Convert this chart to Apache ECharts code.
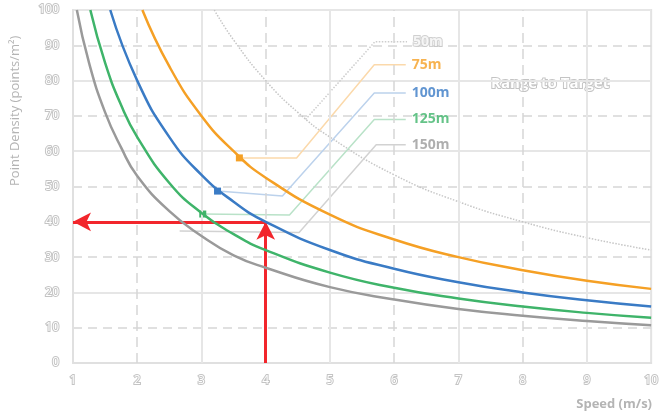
<!DOCTYPE html>
<html>
<head>
<meta charset="utf-8">
<script src="https://cdn.jsdelivr.net/npm/echarts@6/dist/echarts.min.js"></script>
<style>
  html, body { margin: 0; padding: 0; background: #fff; }
  #chart { width: 662px; height: 415px; }
</style>
</head>
<body>
<div id="chart"></div>
<script>
// curves: speed (m/s) -> point density (points/m²)
let speed50 = [3.2, 3.5, 4, 4.5, 5, 6, 7, 8, 9, 10];
let dens50 = [100, 91.5, 80, 71, 64, 53.3, 45.7, 40, 35.5, 32];
let speed75 = [2.08, 2.5, 3, 3.5, 4, 5, 6, 7, 8, 9, 10];
let dens75 = [100, 84, 70, 60, 52.5, 42, 35, 30, 26.3, 23.3, 21];
let speed100 = [1.58, 2, 2.5, 3, 3.5, 4, 5, 6, 7, 8, 9, 10];
let dens100 = [100, 80, 64, 53.3, 45.7, 40, 32, 26.7, 22.9, 20, 17.8, 16];
let speed125 = [1.27, 1.5, 1.75, 2, 2.5, 3, 3.5, 4, 5, 6, 7, 8, 9, 10];
let dens125 = [100, 85, 73, 64, 51, 42.5, 36.5, 32, 25.6, 21.3, 18.3, 16, 14.2, 12.8];
let speed150 = [1.06, 1.25, 1.5, 1.75, 2, 2.5, 3, 3.5, 4, 5, 6, 7, 8, 9, 10];
let dens150 = [100, 85, 71, 61, 53, 43, 36, 30.5, 27, 21.5, 18, 15.3, 13.4, 11.9, 10.7];

// leader lines from a point on each curve to its label (data coords)
let lead50 = [[4.62, 69], [5.7, 91], [6.2, 91]];
let lead75 = [[3.59, 58.1], [4.48, 58.1], [5.69, 84.5], [6.18, 84.5]];
let lead100 = [[3.25, 48.7], [4.26, 47.3], [5.69, 76.5], [6.18, 76.5]];
let lead125 = [[3.02, 42.2], [4.37, 41.9], [5.69, 69], [6.18, 69]];
let lead150 = [[2.66, 37.4], [4.52, 37], [5.72, 61.8], [6.18, 61.8]];

let labels = ['50m', '75m', '100m', '125m', '150m'];
let xTicks = [1, 10, 1];   // min, max, step
let yTicks = [0, 100, 10];
let dashedX = [2, 4, 6, 8];
let solidX = [3, 5, 7, 9];

let chart = echarts.init(document.getElementById('chart'));

function zip(xs, ys) {
  return xs.map(function (x, i) { return [x, ys[i]]; });
}

let outlined = {
  color: '#fff',
  textBorderColor: '#c4c4c4',
  textBorderWidth: 2,
  fontFamily: 'Open Sans',
  fontWeight: 'bold'
};

function curve(name, xs, ys, color, extra) {
  return Object.assign({
    name: name,
    type: 'line',
    data: zip(xs, ys),
    smooth: 0.5,
    showSymbol: false,
    silent: true,
    z: 5,
    lineStyle: { color: color, width: 2.5 }
  }, extra || {});
}

// polyline + optional square dot on the curve + text at the far end
function leader(pts, lineColor, dotColor, text, textStyle) {
  let data = pts.map(function (p, i) {
    let item = { value: p, symbol: 'none' };
    if (i === 0 && dotColor) {
      item.symbol = 'rect';
      item.itemStyle = { color: dotColor };
    }
    return item;
  });
  let end = pts[pts.length - 1];
  return [
    {
      type: 'line',
      data: data,
      symbolSize: 7,
      silent: true,
      z: 3,
      lineStyle: { color: lineColor, width: 1.5, type: dotColor || text !== labels[0] ? 'solid' : 'dotted' }
    },
    {
      type: 'scatter',
      data: [end],
      symbol: 'circle',
      symbolSize: 0.1,
      itemStyle: { color: 'rgba(0,0,0,0)' },
      silent: true,
      z: 6,
      label: Object.assign({
        show: true,
        position: 'right',
        distance: 6,
        formatter: text,
        fontSize: 14,
        fontFamily: 'Open Sans',
        fontWeight: 'bold'
      }, textStyle)
    }
  ];
}

let option = {
  animation: false,
  grid: {
    left: 73, right: 8, top: 10, bottom: 52,
    show: true, borderColor: '#e3e3e3', borderWidth: 2
  },
  xAxis: {
    type: 'value',
    min: xTicks[0], max: xTicks[1], interval: xTicks[2],
    axisLine: { show: true, lineStyle: { color: '#e0e0e0', width: 2 } },
    axisTick: { show: false },
    axisLabel: Object.assign({}, outlined, { fontSize: 12, margin: 12, fontWeight: 'normal' }),
    splitLine: { show: false }
  },
  yAxis: [
    {
      type: 'value',
      min: yTicks[0], max: yTicks[1], interval: yTicks[2],
      axisLine: { show: true, lineStyle: { color: '#e0e0e0', width: 2 } },
      axisTick: { show: false },
      axisLabel: Object.assign({}, outlined, { fontSize: 12, margin: 14, fontWeight: 'normal' }),
      splitLine: { show: false }
    },
    {
      type: 'value',
      min: yTicks[0], max: yTicks[1], interval: yTicks[2] * 2,
      position: 'left',
      axisLine: { show: false },
      axisTick: { show: false },
      axisLabel: { show: false },
      splitLine: { show: true, lineStyle: { color: '#e6e6e6', width: 2 } },
      minorTick: { show: false, splitNumber: 2 },
      minorSplitLine: { show: true, lineStyle: { color: '#d6d6d6', width: 1.5, type: [9, 6] } }
    }
  ],
  graphic: [
    {
      type: 'text', x: 9, y: 186, rotation: Math.PI / 2,
      style: { text: 'Point Density (points/m²)', fill: '#b4b4b4', font: '13px "Open Sans"' }
    },
    {
      type: 'text', right: 10, bottom: 4,
      style: { text: 'Speed (m/s)', fill: '#b4b4b4', font: 'bold 13px "Open Sans"' }
    },
    {
      type: 'text', left: 490, top: 75,
      style: {
        text: 'Range to Target', fill: '#fff', stroke: '#c4c4c4', lineWidth: 2,
        font: 'bold 15px "Open Sans"'
      }
    }
  ],
  series: [
    {
      type: 'line', data: [], silent: true,
      markLine: {
        silent: true, symbol: 'none', label: { show: false },
        data: dashedX.map(function (v) {
          return { xAxis: v, lineStyle: { color: '#d6d6d6', width: 1.5, type: [10, 6] } };
        }).concat(solidX.map(function (v) {
          return { xAxis: v, lineStyle: { color: '#e6e6e6', width: 2, type: 'solid' } };
        }))
      }
    },
    curve('50m', speed50, dens50, '#cfcfcf', {
      lineStyle: { color: '#c6c6c6', width: 1.5, type: 'dotted' }, z: 2
    })
  ].concat(
    leader(lead50, '#cdcdcd', null, labels[0], outlined),
    leader(lead75, '#fbd9ab', '#f5a025', labels[1], { color: '#f5a025' }),
    leader(lead100, '#bcd2ec', '#3a7bc5', labels[2], { color: '#3a7bc5' }),
    leader(lead125, '#b9e2c8', '#3fb46a', labels[3], { color: '#3fb46a' }),
    leader(lead150, '#d2d2d2', null, labels[4], { color: '#9a9a9a' }),
    [
      curve('75m', speed75, dens75, '#f5a025'),
      curve('100m', speed100, dens100, '#3a7bc5', {
        markLine: {
          silent: true,
          symbol: ['none', 'arrow'],
          symbolSize: [14, 18],
          label: { show: false },
          lineStyle: { color: '#f2262c', width: 3, type: 'solid' },
          data: [
            [{ coord: [4, 0] }, { coord: [4, 40] }],
            [{ coord: [4, 40] }, { coord: [1, 40] }]
          ]
        }
      }),
      curve('125m', speed125, dens125, '#3fb46a'),
      curve('150m', speed150, dens150, '#9a9a9a')
    ]
  )
};

chart.setOption(option);
</script>
</body>
</html>
